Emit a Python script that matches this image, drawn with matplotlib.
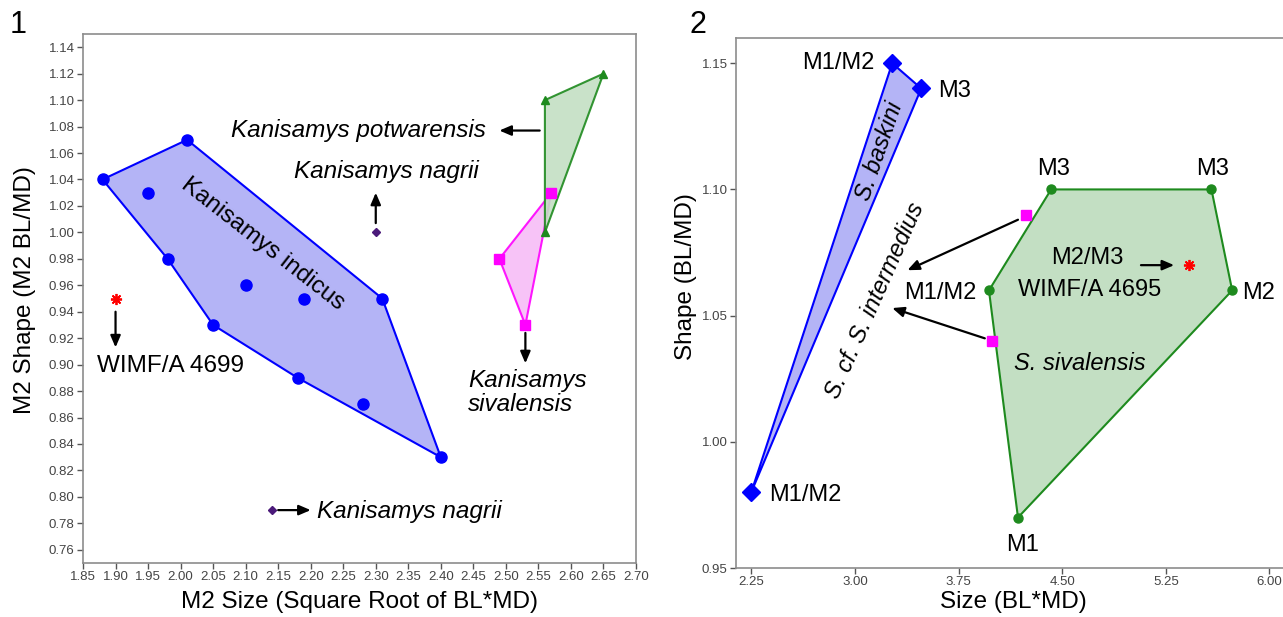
"""Two-panel morphometric plot of Kanisamys / Sivacanthion-type molar shape vs size."""

import matplotlib
matplotlib.use("Agg")
import matplotlib.pyplot as plt
from matplotlib.ticker import FixedLocator, FormatStrFormatter

plt.rcParams["font.family"] = ["Liberation Sans", "DejaVu Sans"]

# ---- panel 1 data -------------------------------------------------------
indicus_x = [1.88, 2.01, 2.31, 2.40, 2.28, 2.18, 2.05, 1.98, 1.95, 2.10, 2.19]
indicus_y = [1.04, 1.07, 0.95, 0.83, 0.87, 0.89, 0.93, 0.98, 1.03, 0.96, 0.95]
indicus_hull = [0, 1, 2, 3, 5, 6, 7]
potwar_x = [2.56, 2.65, 2.56]
potwar_y = [1.10, 1.12, 1.00]
sival_x = [2.57, 2.49, 2.53]
sival_y = [1.03, 0.98, 0.93]
nagrii_x = [2.30, 2.14]
nagrii_y = [1.00, 0.79]
wimf4699 = (1.90, 0.95)

# ---- panel 2 data -------------------------------------------------------
baskini_x = [2.25, 3.27, 3.48]
baskini_y = [0.98, 1.15, 1.14]
sivalensis_x = [3.97, 4.42, 5.58, 5.73, 4.18]
sivalensis_y = [1.06, 1.10, 1.10, 1.06, 0.97]
intermed_x = [4.24, 3.99]
intermed_y = [1.09, 1.04]
wimf4695 = (5.42, 1.07)

BLUE = "#0000ff"
GREEN = "#1e8a1e"
MAGENTA = "#ff00ff"
TICK_COL = "#444444"
STAR = (8, 2, 0)  # asterisk marker


def style_axes(ax):
    for s in ax.spines.values():
        s.set_color("#8c8c8c")
        s.set_linewidth(1.2)
    ax.tick_params(direction="out", length=4, width=1, color="#555555",
                   labelsize=9.5, labelcolor=TICK_COL, pad=2)


def arrow(ax, start, end):
    ax.annotate("", xy=end, xytext=start,
                arrowprops=dict(arrowstyle="-|>,head_length=0.7,head_width=0.3",
                                color="black", lw=1.6, shrinkA=0, shrinkB=0))


fig = plt.figure(figsize=(12.83, 6.17), dpi=100)

# ================= panel 1 =================
ax1 = fig.add_axes([0.0647, 0.0875, 0.431, 0.8574])
style_axes(ax1)
hx = [indicus_x[i] for i in indicus_hull]
hy = [indicus_y[i] for i in indicus_hull]
ax1.fill(hx, hy, facecolor="#b4b4f6", edgecolor=BLUE, lw=1.5, zorder=1)
ax1.plot(indicus_x, indicus_y, "o", color=BLUE, ms=8, zorder=3)
ax1.fill(potwar_x, potwar_y, facecolor="#c3dfc3", edgecolor=GREEN, lw=1.5,
         alpha=0.9, zorder=2)
ax1.plot(potwar_x, potwar_y, "^", color=GREEN, ms=6, zorder=3)
ax1.fill(sival_x, sival_y, facecolor="#f7bdf7", edgecolor=MAGENTA, lw=1.5,
         alpha=0.9, zorder=1)
ax1.plot(sival_x, sival_y, "s", color=MAGENTA, ms=7.5, zorder=3)
ax1.plot(nagrii_x, nagrii_y, "D", color="#4b1a7a", ms=4, zorder=3)
ax1.plot(*wimf4699, marker=STAR, color="red", ms=8, mew=1.3, zorder=3)

ax1.set_xlim(1.85, 2.70)
ax1.set_ylim(0.75, 1.15)
ax1.xaxis.set_major_locator(FixedLocator([1.85 + 0.05 * i for i in range(18)]))
ax1.yaxis.set_major_locator(FixedLocator([0.76 + 0.02 * i for i in range(20)]))
ax1.xaxis.set_major_formatter(FormatStrFormatter("%.2f"))
ax1.yaxis.set_major_formatter(FormatStrFormatter("%.2f"))
ax1.set_xlabel("M2 Size (Square Root of BL*MD)", fontsize=17.5)
ax1.set_ylabel("M2 Shape (M2 BL/MD)", fontsize=17.5)
ax1.xaxis.set_label_coords(0.5, -0.052)
ax1.yaxis.set_label_coords(-0.085, 0.516)

fs = 17.5
ax1.text(2.47, 1.077, "Kanisamys potwarensis", style="italic", fontsize=fs,
         ha="right", va="center")
arrow(ax1, (2.552, 1.077), (2.49, 1.077))
ax1.text(2.317, 1.046, "Kanisamys nagrii", style="italic", fontsize=fs,
         ha="center", va="center")
arrow(ax1, (2.30, 1.007), (2.30, 1.03))
ax1.text(2.127, 0.991, "Kanisamys indicus", fontsize=fs, rotation=-38,
         ha="center", va="center", rotation_mode="anchor")
ax1.text(1.985, 0.899, "WIMF/A 4699", fontsize=fs, ha="center", va="center")
arrow(ax1, (1.90, 0.94), (1.90, 0.913))
ax1.text(2.442, 0.879, "Kanisamys\nsivalensis", style="italic", fontsize=fs,
         ha="left", va="center", linespacing=1.1)
arrow(ax1, (2.53, 0.924), (2.53, 0.901))
ax1.text(2.21, 0.789, "Kanisamys nagrii", style="italic", fontsize=fs,
         ha="left", va="center")
arrow(ax1, (2.15, 0.79), (2.20, 0.79))

fig.text(10 / 1283, 1 - 25 / 617, "1", fontsize=22, va="center")

# ================= panel 2 =================
ax2 = fig.add_axes([0.5737, 0.0794, 0.4287, 0.859])
style_axes(ax2)
ax2.fill(baskini_x, baskini_y, facecolor="#b4b4f6", edgecolor=BLUE, lw=1.5,
         zorder=1)
ax2.plot(baskini_x, baskini_y, "D", color=BLUE, ms=9, lw=0, zorder=3)
ax2.fill(sivalensis_x, sivalensis_y, facecolor="#c3dfc3", edgecolor=GREEN,
         lw=1.5, zorder=1)
ax2.plot(sivalensis_x, sivalensis_y, "o", color=GREEN, ms=6.5, lw=0, zorder=3)
ax2.plot(intermed_x, intermed_y, "s", color=MAGENTA, ms=7.5, lw=0, zorder=3)
ax2.plot(*wimf4695, marker=STAR, color="red", ms=8, mew=1.3, zorder=3)

ax2.set_xlim(2.14, 6.12)
ax2.set_ylim(0.95, 1.16)
ax2.xaxis.set_major_locator(FixedLocator([2.25, 3.00, 3.75, 4.50, 5.25, 6.00]))
ax2.yaxis.set_major_locator(FixedLocator([0.95, 1.00, 1.05, 1.10, 1.15]))
ax2.xaxis.set_major_formatter(FormatStrFormatter("%.2f"))
ax2.yaxis.set_major_formatter(FormatStrFormatter("%.2f"))
ax2.set_xlabel("Size (BL*MD)", fontsize=17.5)
ax2.set_ylabel("Shape (BL/MD)", fontsize=17.5)
ax2.xaxis.set_label_coords(0.504, -0.044)
ax2.yaxis.set_label_coords(-0.071, 0.55)

fs2 = 17
ax2.text(2.88, 1.150, "M1/M2", fontsize=fs2, ha="center", va="center")
ax2.text(3.60, 1.139, "M3", fontsize=fs2, ha="left", va="center")
ax2.text(2.38, 0.979, "M1/M2", fontsize=fs2, ha="left", va="center")
ax2.text(3.18, 1.115, "S. baskini", style="italic", fontsize=fs2,
         rotation=71, ha="center", va="center", rotation_mode="anchor")
ax2.text(3.15, 1.056, "S. cf. S. intermedius", style="italic", fontsize=fs2,
         rotation=66, ha="center", va="center", rotation_mode="anchor")
arrow(ax2, (4.18, 1.088), (3.38, 1.068))
arrow(ax2, (3.94, 1.041), (3.27, 1.053))
ax2.text(4.44, 1.108, "M3", fontsize=fs2, ha="center", va="center")
ax2.text(5.59, 1.108, "M3", fontsize=fs2, ha="center", va="center")
ax2.text(5.80, 1.059, "M2", fontsize=fs2, ha="left", va="center")
ax2.text(4.21, 0.959, "M1", fontsize=fs2, ha="center", va="center")
ax2.text(3.88, 1.059, "M1/M2", fontsize=fs2, ha="right", va="center")
ax2.text(4.68, 1.073, "M2/M3", fontsize=fs2, ha="center", va="center")
ax2.text(4.70, 1.060, "WIMF/A 4695", fontsize=fs2, ha="center", va="center")
arrow(ax2, (5.07, 1.070), (5.31, 1.070))
ax2.text(4.63, 1.031, "S. sivalensis", style="italic", fontsize=fs2,
         ha="center", va="center")

fig.text(690 / 1283, 1 - 25 / 617, "2", fontsize=22, va="center")

fig.savefig("out.png", dpi=100)
